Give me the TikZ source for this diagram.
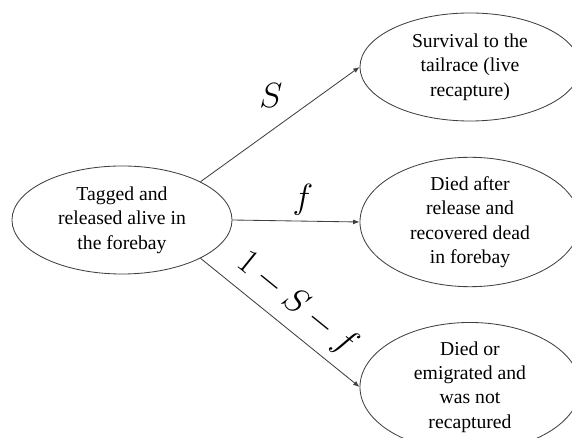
\documentclass[tikz,border=0pt]{standalone}
\usepackage{fontspec}
\setmainfont{Liberation Serif}
\usepackage{tikz}
\usetikzlibrary{shapes.geometric,arrows.meta,positioning}

\begin{document}
\begin{tikzpicture}[
    x=0.025cm, y=-0.025cm,
    fate/.style={ellipse, draw=black!75, line width=0.6pt, minimum width=5.5cm, minimum height=2.7cm, inner sep=0pt, align=center, font=\fontsize{14}{17.4}\selectfont},
    prob/.style={font=\fontsize{26}{30}\selectfont},
    arrow/.style={-{Latex[length=4.5pt,width=3.5pt]}, draw=black!75, line width=0.6pt}
]
\useasboundingbox (0,0) rectangle (572,438);
\clip (0,0) rectangle (572,438);

% Release
\node[fate] (rel) at (122,220) {Tagged and\\released alive in\\the forebay};

% Outcomes
\node[fate] (surv) at (470,67) {Survival to the\\tailrace (live\\recapture)};
\node[fate] (dead) at (470,222) {Died after\\release and\\recovered dead\\in forebay};
\node[fate] (lost) at (470,387) {Died or\\emigrated and\\was not\\recaptured};

% Arrows
\draw[arrow] (rel.26) -- (surv.west);
\draw[arrow] (rel.east) -- (dead.west);
\draw[arrow] (rel.-26) -- (lost.west);

% Labels
\node[prob] (pS) at (271,96) {$S$};
\node[prob] (pf) at (303,200) {$f$};
\node[prob, rotate=-39] (prest) at (297,304) {$1-S-f$};

\end{tikzpicture}
\end{document}
